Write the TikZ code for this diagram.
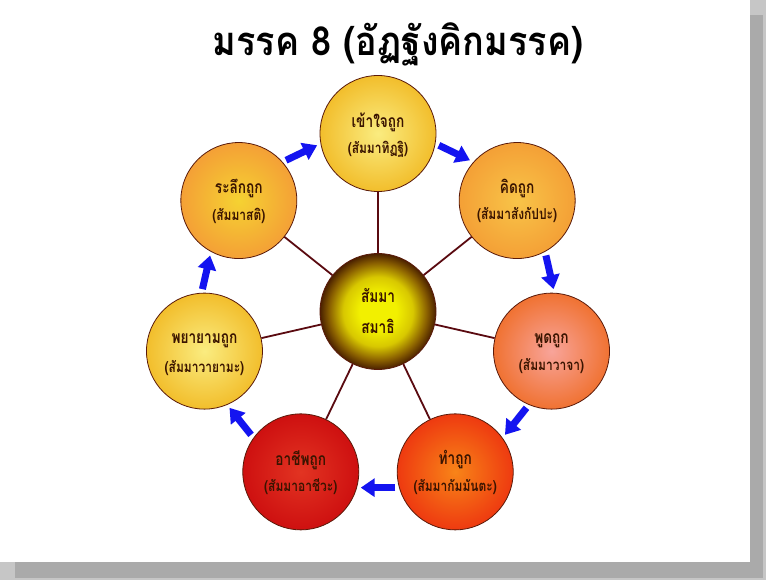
\documentclass[tikz,border=0pt]{standalone}
\usepackage{fontspec}
\newfontfamily\thai[Script=Thai, FakeStretch=0.9]{Loma}
\newfontfamily\thaimain[Script=Thai, FakeStretch=0.78]{Loma}
\newfontfamily\thaisub[Script=Thai, FakeStretch=0.8]{Loma}
\usetikzlibrary{calc,arrows.meta}
\definecolor{shlight}{HTML}{C6C6C6}
\definecolor{shdark}{HTML}{AAAAAA}
\definecolor{rim}{HTML}{5A1A0A}
\definecolor{spokec}{HTML}{5A0A10}
\definecolor{txt}{HTML}{3A1400}
\definecolor{arr}{HTML}{1414F0}
\definecolor{yin}{HTML}{FAEC80}
\definecolor{yout}{HTML}{F2BE2C}
\definecolor{oin}{HTML}{F8C448}
\definecolor{oout}{HTML}{F4A036}
\definecolor{ulin}{HTML}{F5D232}
\definecolor{rin}{HTML}{F8A49A}
\definecolor{rout}{HTML}{F07232}
\definecolor{lrin}{HTML}{F88418}
\definecolor{lrout}{HTML}{EE3A10}
\definecolor{llin}{HTML}{E23422}
\definecolor{llout}{HTML}{CE1010}
\definecolor{cy}{HTML}{F2F000}
\definecolor{cy2}{HTML}{D8C800}
\definecolor{cm}{HTML}{8A6000}
\definecolor{cd}{HTML}{4A2000}
\pgfdeclareradialshading{centreball}{\pgfpoint{0bp}{0bp}}{color(0bp)=(cy); color(8bp)=(cy); color(15bp)=(cy2); color(21bp)=(cm); color(25bp)=(cd); color(50bp)=(cd)}
\tikzset{
  ball/.style={circle, minimum size=116pt, inner sep=0pt, draw=rim, line width=0.8pt, shading=radial},
  centre/.style={circle, minimum size=116pt, inner sep=0pt, draw=rim, line width=0.8pt, shading=centreball},
  mainline/.style={font=\thaimain\bfseries\fontsize{17.5}{19}\selectfont, text=txt, inner sep=0pt},
  subline/.style={font=\thaisub\bfseries\fontsize{15}{17}\selectfont, text=txt, inner sep=0pt},
  spoke/.style={draw=spokec, line width=1.8pt},
  bluearrow/.style={draw=arr, line width=7pt, -{Triangle[width=18pt,length=14pt]}},
  titletext/.style={font=\thai\bfseries\fontsize{40}{44}\selectfont, text=black, inner sep=0pt}
}
\begin{document}
\begin{tikzpicture}[x=1pt,y=1pt]
\useasboundingbox (0,0) rectangle (766,-580);
\fill[white] (0,0) rectangle (766,-580);
\fill[shlight] (750,0) rectangle (766,-580);
\fill[shlight] (0,-562) rectangle (766,-580);
\fill[shdark] (15,-15) rectangle (763,-578);
\fill[white] (0,0) rectangle (750,-562);

\node[titletext] (title) at (398,-44) {มรรค 8 (อัฏฐังคิกมรรค)};

\coordinate (o) at (378,-311.5);
\node[centre] (c) at (o) {};
\node[ball, inner color=yin, outer color=yout] (n1) at ($(o)+(90:178)$) {};
\node[ball, inner color=oin, outer color=oout] (n2) at ($(o)+(38.57:178)$) {};
\node[ball, inner color=rin, outer color=rout] (n3) at ($(o)+(-12.86:178)$) {};
\node[ball, inner color=lrin, outer color=lrout] (n4) at ($(o)+(-64.29:178)$) {};
\node[ball, inner color=llin, outer color=llout] (n5) at ($(o)+(-115.71:178)$) {};
\node[ball, inner color=yin, outer color=yout] (n6) at ($(o)+(-167.14:178)$) {};
\node[ball, inner color=ulin, outer color=oout] (n7) at ($(o)+(141.43:178)$) {};

\foreach \n in {n1,n2,n3,n4,n5,n6,n7} \draw[spoke] (c) -- (\n);

\node[mainline] (c1) at ($(c)+(0,16)$) {สัมมา};
\node[mainline] (c2) at ($(c)+(0,-15)$) {สมาธิ};
\node[mainline] (t1a) at ($(n1)+(0,11)$) {เข้าใจถูก};
\node[subline]  (t1b) at ($(n1)+(0,-16)$) {(สัมมาทิฏฐิ)};
\node[mainline] (t2a) at ($(n2)+(0,12)$) {คิดถูก};
\node[subline]  (t2b) at ($(n2)+(0,-14)$) {(สัมมาสังกัปปะ)};
\node[mainline] (t3a) at ($(n3)+(0,10)$) {พูดถูก};
\node[subline]  (t3b) at ($(n3)+(0,-15)$) {(สัมมาวาจา)};
\node[mainline] (t4a) at ($(n4)+(0,12)$) {ทำถูก};
\node[subline]  (t4b) at ($(n4)+(0,-15)$) {(สัมมากัมมันตะ)};
\node[mainline] (t5a) at ($(n5)+(0,12)$) {อาชีพถูก};
\node[subline]  (t5b) at ($(n5)+(0,-15)$) {(สัมมาอาชีวะ)};
\node[mainline] (t6a) at ($(n6)+(0,10)$) {พยายามถูก};
\node[subline]  (t6b) at ($(n6)+(0,-17)$) {(สัมมาวายามะ)};
\node[mainline] (t7a) at ($(n7)+(0,12)$) {ระลึกถูก};
\node[subline]  (t7b) at ($(n7)+(0,-15)$) {(สัมมาสติ)};

\foreach \m/\k in {64.29/12, 12.86/23, -38.57/34, -90/45, -141.43/56, 167.14/67, 115.71/71} {
  \coordinate (s\k) at ($(o)+(\m+5.6:177)$);
  \coordinate (e\k) at ($(o)+(\m-5.6:177)$);
  \draw[bluearrow] (s\k) -- (e\k);
}
\end{tikzpicture}
\end{document}
